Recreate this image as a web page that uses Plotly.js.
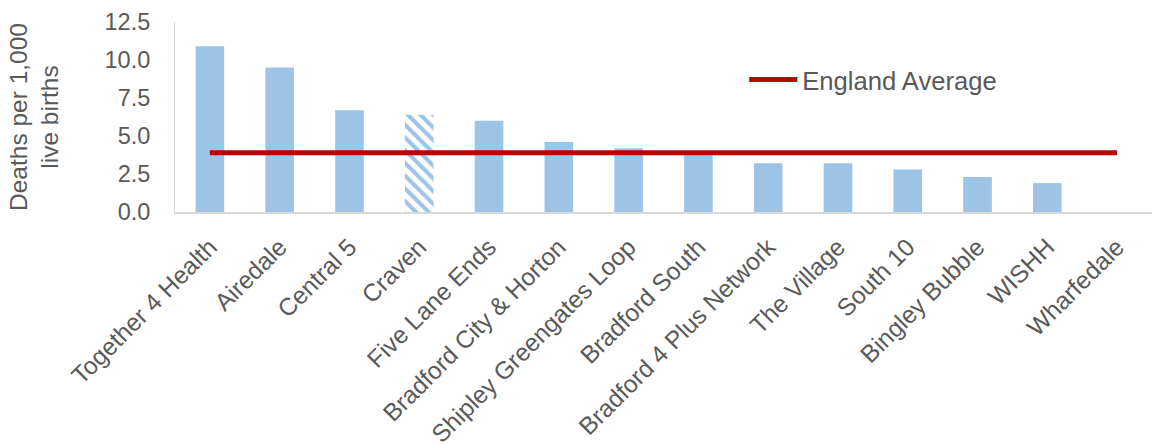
<!DOCTYPE html>
<html>
<head>
<meta charset="utf-8">
<script src="https://cdn.plot.ly/plotly-3.0.1.min.js"></script>
<style>html,body{margin:0;padding:0;background:#fff;}#chart{width:1159px;height:445px;}</style>
</head>
<body>
<div id="chart"></div>
<script>
const categories = ["Together 4 Health","Airedale","Central 5","Craven","Five Lane Ends","Bradford City & Horton","Shipley Greengates Loop","Bradford South","Bradford 4 Plus Network","The Village","South 10","Bingley Bubble","WISHH","Wharfedale"];
const deathRates = [10.9, 9.5, 6.7, 6.4, 6.0, 4.6, 4.2, 3.9, 3.2, 3.2, 2.8, 2.3, 1.9, 0];
const hatched = [false,false,false,true,false,false,false,false,false,false,false,false,false,false];
const englandAverage = 3.9;
const yTicks = [0, 2.5, 5, 7.5, 10, 12.5];

const barBlue = '#9DC3E6';
const grey = '#595959';

const bars = {
  type: 'bar',
  x: categories,
  y: deathRates,
  showlegend: false,
  hoverinfo: 'x+y',
  marker: {
    color: barBlue,
    line: {width: 0},
    pattern: {
      shape: hatched.map(h => h ? '\\' : ''),
      fillmode: 'replace',
      size: 9,
      solidity: 0.45
    }
  }
};

const avgLine = {
  type: 'scatter',
  mode: 'lines',
  name: 'England Average',
  x: categories,
  y: categories.map(() => englandAverage),
  line: {color: '#C00000', width: 5},
  hoverinfo: 'name+y'
};

const layout = {
  width: 1159,
  height: 445,
  margin: {l: 175, r: 7, t: 22, b: 233},
  paper_bgcolor: '#fff',
  plot_bgcolor: '#fff',
  bargap: 0.59,
  font: {family: 'Liberation Sans, Arial, sans-serif', color: grey, size: 24},
  xaxis: {
    type: 'category',
    tickangle: -45,
    showline: true,
    linecolor: '#D9D9D9',
    linewidth: 2,
    showgrid: false,
    ticks: '',
    ticklabelstandoff: 9,
    tickfont: {size: 24.5, color: grey},
    fixedrange: true
  },
  yaxis: {
    range: [0, 12.5],
    tickvals: yTicks,
    ticktext: yTicks.map(v => v.toFixed(1)),
    showline: true,
    linecolor: '#D9D9D9',
    linewidth: 1,
    showgrid: false,
    zeroline: false,
    ticks: '',
    ticklabelstandoff: 19,
    tickfont: {size: 23.5, color: grey},
    title: {text: 'Deaths per 1,000<br>live births', font: {size: 24.5, color: grey}, standoff: 38},
    fixedrange: true
  },
  showlegend: true,
  legend: {
    x: 0.5826, y: 0.695, xanchor: 'left', yanchor: 'middle',
    itemwidth: 48,
    bgcolor: 'rgba(0,0,0,0)',
    font: {size: 25.6, color: grey}
  }
};

Plotly.newPlot('chart', [bars, avgLine], layout, {displayModeBar: false});
</script>
</body>
</html>
